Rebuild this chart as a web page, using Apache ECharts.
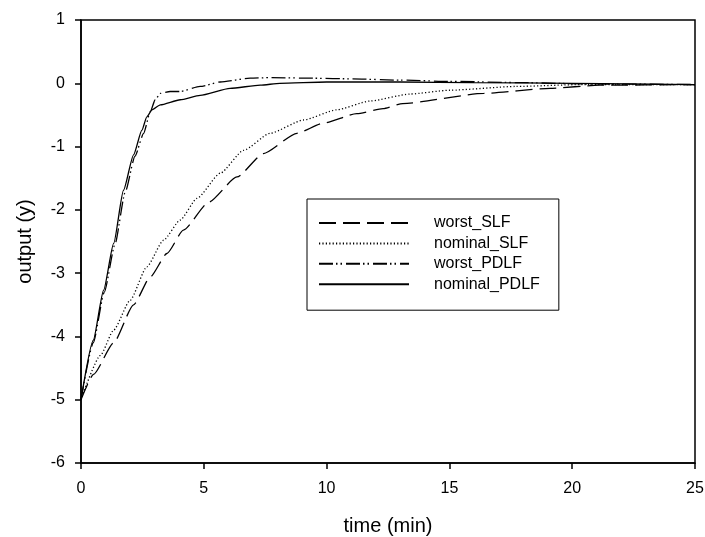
<!DOCTYPE html>
<html>
<head>
<meta charset="utf-8">
<script src="https://cdn.jsdelivr.net/npm/echarts@6/dist/echarts.min.js"></script>
<style>
html,body{margin:0;padding:0;background:#fff;}
#chart{width:705px;height:537px;}
</style>
</head>
<body>
<div id="chart"></div>
<script>
// Series names
var seriesNames = ['worst_SLF', 'nominal_SLF', 'worst_PDLF', 'nominal_PDLF'];

// worst_SLF (dashed)
var tWorstSLF = [0, 0.51, 1.33, 2.14, 2.82, 3.5, 4.17, 5.2, 6.35, 7.43, 8.79, 9.87, 11.23, 12.3, 13.1, 16.4, 19.1, 21.1, 25];
var yWorstSLF = [-5, -4.6, -4.1, -3.5, -3.06, -2.69, -2.32, -1.88, -1.48, -1.11, -0.79, -0.63, -0.48, -0.4, -0.32, -0.16, -0.08, -0.03, -0.02];

// nominal_SLF (dotted)
var tNominalSLF = [0, 0.79, 1.33, 2.0, 2.68, 3.36, 4.04, 4.72, 5.67, 6.62, 7.7, 9.06, 10.4, 11.77, 13.4, 15.0, 17.7, 20.4, 25];
var yNominalSLF = [-5, -4.3, -3.9, -3.43, -2.9, -2.48, -2.16, -1.82, -1.42, -1.06, -0.79, -0.58, -0.42, -0.28, -0.17, -0.11, -0.05, -0.02, -0.02];

// worst_PDLF (dash-dot-dot)
var tWorstPDLF = [0, 0.5, 0.95, 1.38, 1.8, 2.2, 2.55, 2.82, 3.02, 3.23, 3.63, 4.04, 4.85, 5.67, 6.89, 7.7, 9.5, 11, 13, 15, 18, 20.5, 25];
var yWorstPDLF = [-5, -4.1, -3.3, -2.55, -1.72, -1.15, -0.79, -0.45, -0.26, -0.16, -0.13, -0.13, -0.05, 0.02, 0.08, 0.09, 0.08, 0.07, 0.05, 0.03, 0.01, -0.01, -0.02];

// nominal_PDLF (solid)
var tNominalPDLF = [0, 0.5, 0.92, 1.33, 1.73, 2.14, 2.48, 2.68, 2.89, 3.23, 4.04, 4.85, 6.07, 7.3, 8.1, 10, 13, 16, 20, 25];
var yNominalPDLF = [-5, -4.06, -3.27, -2.53, -1.69, -1.13, -0.74, -0.53, -0.42, -0.34, -0.26, -0.19, -0.08, -0.03, 0.0, 0.02, 0.02, 0.01, 0.0, -0.02];

function pairs(t, y) { return t.map(function (v, i) { return [v, y[i]]; }); }

var FONT = 'Liberation Sans, Arial, sans-serif';
var chart = echarts.init(document.getElementById('chart'), null, {renderer: 'canvas'});

function mkSeries(name, t, y, dash) {
  return {
    name: name,
    type: 'line',
    data: pairs(t, y),
    symbol: 'none',
    showSymbol: false,
    smooth: 0.2,
    smoothMonotone: 'x',
    lineStyle: {color: '#000', width: 1.3, type: dash},
    itemStyle: {color: '#000'},
    emphasis: {disabled: true}
  };
}

chart.setOption({
  animation: false,
  backgroundColor: '#fff',
  grid: {left: 81, right: 10, top: 20, bottom: 74, outerBoundsMode: 'none', containLabel: false,
         show: true, borderColor: '#000', borderWidth: 1.5, backgroundColor: 'transparent'},
  legend: {
    show: true,
    orient: 'vertical',
    left: 307,
    top: 199,
    padding: [16, 19, 18, 11],
    itemWidth: 90,
    itemHeight: 14,
    itemGap: 4.4,
    itemStyle: {color: 'rgba(0,0,0,0)', borderColor: 'rgba(0,0,0,0)', borderWidth: 0, opacity: 0},
    borderColor: '#000',
    borderWidth: 1,
    backgroundColor: '#fff',
    selectedMode: false,
    textStyle: {fontFamily: FONT, fontSize: 16, color: '#000', padding: [0, 0, 0, 20]},
    data: seriesNames
  },
  xAxis: {
    type: 'value', min: 0, max: 25, interval: 5,
    name: 'time (min)', nameLocation: 'middle', nameGap: 53,
    nameTextStyle: {fontFamily: FONT, fontSize: 20, color: '#000'},
    axisLine: {show: true, onZero: false, lineStyle: {color: '#000', width: 1.5}},
    axisTick: {show: true, inside: false, length: 6, lineStyle: {color: '#000', width: 1.5}},
    axisLabel: {fontFamily: FONT, fontSize: 16, color: '#000', margin: 18},
    splitLine: {show: false}
  },
  yAxis: {
    type: 'value', min: -6, max: 1, interval: 1,
    name: 'output (y)', nameLocation: 'middle', nameGap: 46, nameRotate: 90,
    nameTextStyle: {fontFamily: FONT, fontSize: 20, color: '#000'},
    axisLine: {show: true, onZero: false, lineStyle: {color: '#000', width: 1.5}},
    axisTick: {show: true, inside: false, length: 6, lineStyle: {color: '#000', width: 1.5}},
    axisLabel: {fontFamily: FONT, fontSize: 16, color: '#000', margin: 16},
    splitLine: {show: false}
  },
  series: [
    mkSeries(seriesNames[0], tWorstSLF, yWorstSLF, [17, 7]),
    mkSeries(seriesNames[1], tNominalSLF, yNominalSLF, [1.2, 2.2]),
    mkSeries(seriesNames[2], tWorstPDLF, yWorstPDLF, [14, 3, 1.5, 3, 1.5, 4]),
    mkSeries(seriesNames[3], tNominalPDLF, yNominalPDLF, 'solid')
  ]
});
</script>
</body>
</html>
